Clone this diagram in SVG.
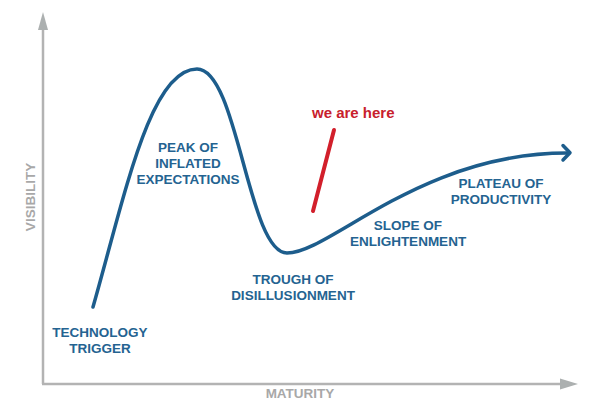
<svg xmlns="http://www.w3.org/2000/svg" width="600" height="413" viewBox="0 0 600 413">
  <style>
    .axis { stroke: #b3b3b3; stroke-width: 2.5; fill: none; }
    .axhead { fill: #acb0b0; }
    .axlabel { font-family: "Liberation Sans", Arial, sans-serif; font-weight: bold; font-size: 13.5px; fill: #a8a8a8; text-anchor: middle; }
    .curve { stroke: #1d5d8c; stroke-width: 3.5; fill: none; stroke-linecap: round; stroke-linejoin: round; }
    .lbl { font-family: "Liberation Sans", Arial, sans-serif; font-weight: bold; font-size: 13.5px; fill: #246391; text-anchor: middle; }
    .red { stroke: #d21f2b; stroke-width: 4; stroke-linecap: round; fill: none; }
    .redtxt { font-family: "Liberation Sans", Arial, sans-serif; font-weight: bold; font-size: 15px; fill: #c8202c; }
  </style>
  <rect width="600" height="413" fill="#ffffff"/>
  <g id="connectors">
    <line class="axis" x1="43" y1="28" x2="43" y2="384"/>
    <line class="axis" x1="42" y1="384" x2="562" y2="384"/>
    <polygon class="axhead" points="43,12 38,30 48,30"/>
    <polygon class="axhead" points="578,384 560,378.5 560,389.5"/>
    <path class="curve" d="M93,307 C125,195 150,69 197,69 C238,69 248,253 287,253 C330,253 420,153 567,153"/>
    <polyline class="curve" points="563,145.5 570,152.8 563,160"/>
    <line class="red" x1="334" y1="130" x2="313" y2="211"/>
  </g>
  <g id="visibility">
    <text class="axlabel" transform="translate(35,197) rotate(-90)">VISIBILITY</text>
  </g>
  <g id="maturity">
    <text class="axlabel" x="300" y="398">MATURITY</text>
  </g>
  <g id="technology-trigger">
    <text class="lbl" x="100" y="337">TECHNOLOGY</text>
    <text class="lbl" x="100" y="353">TRIGGER</text>
  </g>
  <g id="peak">
    <text class="lbl" x="188" y="152">PEAK OF</text>
    <text class="lbl" x="188" y="168">INFLATED</text>
    <text class="lbl" x="188" y="184">EXPECTATIONS</text>
  </g>
  <g id="trough">
    <text class="lbl" x="293" y="284">TROUGH OF</text>
    <text class="lbl" x="293" y="300">DISILLUSIONMENT</text>
  </g>
  <g id="slope">
    <text class="lbl" x="408" y="230">SLOPE OF</text>
    <text class="lbl" x="408" y="246">ENLIGHTENMENT</text>
  </g>
  <g id="plateau">
    <text class="lbl" x="501" y="188">PLATEAU OF</text>
    <text class="lbl" x="501" y="204">PRODUCTIVITY</text>
  </g>
  <g id="we-are-here">
    <text class="redtxt" x="312" y="118">we are here</text>
  </g>
</svg>
